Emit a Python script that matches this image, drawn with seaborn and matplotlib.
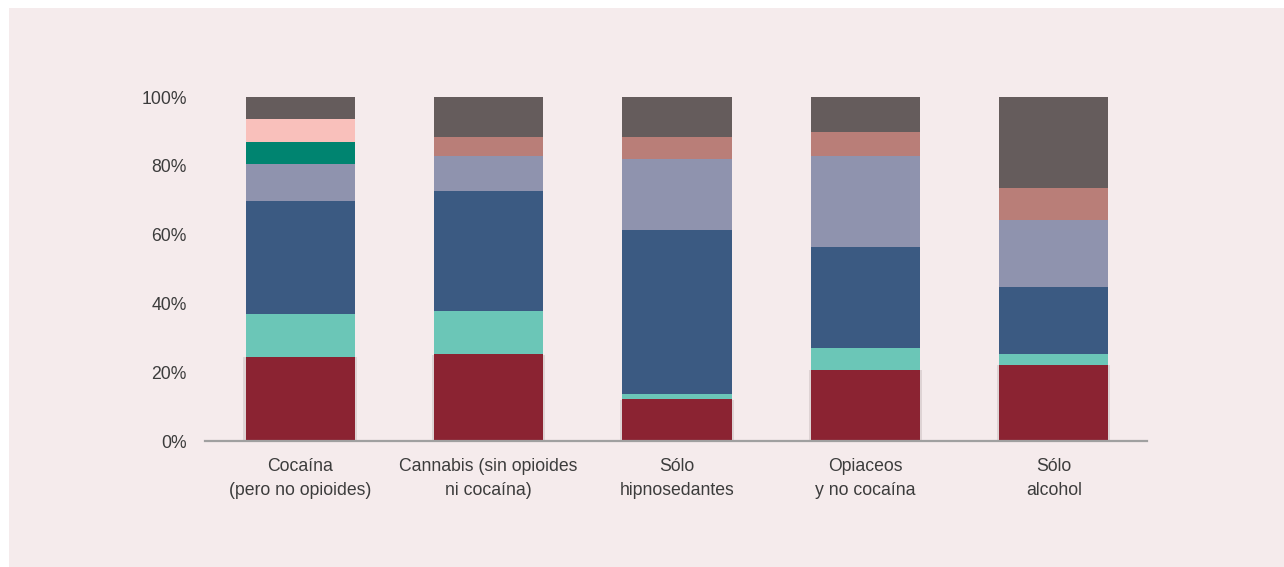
import numpy as np
import pandas as pd
import seaborn as sns
from matplotlib import pyplot as plt
from matplotlib import patheffects as pe
from matplotlib.patches import Rectangle

# data (percent of each group), bottom to top
groups = ['Cocaína\n(pero no opioides)', 'Cannabis (sin opioides\nni cocaína)',
          'Sólo\nhipnosedantes', 'Opiaceos\ny no cocaína', 'Sólo\nalcohol']
seg_red = [24.5, 25.3, 12.2, 20.7, 22.2]
seg_teal = [12.5, 12.6, 1.5, 6.2, 3.1]
seg_blue = [32.7, 34.8, 47.5, 29.6, 19.5]
seg_grey = [10.8, 10.1, 20.9, 26.3, 19.4]
seg_green = [6.4, 0, 0, 0, 0]
seg_pink = [6.8, 0, 0, 0, 0]
seg_rose = [0, 5.6, 6.3, 7.0, 9.3]
seg_dark = [6.3, 11.6, 11.6, 10.2, 26.5]

series = [seg_red, seg_teal, seg_blue, seg_grey, seg_green, seg_pink, seg_rose, seg_dark]
colors = ['#8b2332', '#6bc6b7', '#3b5a82', '#8f93ae', '#008470', '#f9c0bb', '#b97e78', '#655c5c']

BG = '#f5ebec'
TXT = '#3c3c3c'

sns.set_theme(style='white')
plt.rcParams['font.family'] = ['Liberation Sans', 'DejaVu Sans']

fig = plt.figure(figsize=(12.84, 5.67), dpi=100)
fig.patch.set_facecolor('white')
fig.add_artist(Rectangle((9 / 1284, 0), 1, 1 - 8 / 567, transform=fig.transFigure,
                         facecolor=BG, edgecolor='none', zorder=-10))

ax = fig.add_axes([205 / 1284, 1 - 441 / 567, 942 / 1284, 344 / 567])
ax.set_facecolor('none')

# stacked bars: draw cumulative totals from the top series down
cum = np.cumsum(np.array(series), axis=0)
for i in range(len(series) - 1, -1, -1):
    df = pd.DataFrame({'group': groups, 'value': cum[i] / 100})
    sns.barplot(data=df, x='group', y='value', color=colors[i], width=0.58,
                saturation=1, edgecolor='none', linewidth=0, ax=ax)

# soft shadow around the bottom segments
for bar in ax.patches[-len(groups):]:
    bar.set_path_effects([pe.SimplePatchShadow(offset=(1.5, -0.5), shadow_rgbFace='#7a6a6a', alpha=0.18),
                          pe.SimplePatchShadow(offset=(-1.5, -0.5), shadow_rgbFace='#7a6a6a', alpha=0.18),
                          pe.Normal()])

ax.set_xlim(-0.505, 4.495)
ax.set_ylim(0, 1)
ax.set_yticks([0, 0.2, 0.4, 0.6, 0.8, 1.0])
ax.set_yticklabels(['0%', '20%', '40%', '60%', '80%', '100%'])
ax.set(xlabel='', ylabel='')
ax.tick_params(axis='both', length=0, labelsize=12.7, labelcolor=TXT)
ax.tick_params(axis='y', pad=13)
ax.tick_params(axis='x', pad=12)
for lbl in ax.get_xticklabels():
    lbl.set_linespacing(1.55)
for side in ['top', 'right', 'left']:
    ax.spines[side].set_visible(False)
ax.spines['bottom'].set_color('#a0a0a0')
ax.spines['bottom'].set_linewidth(1.6)

fig.savefig('out.png', dpi=100, facecolor=fig.get_facecolor())
plt.close()
